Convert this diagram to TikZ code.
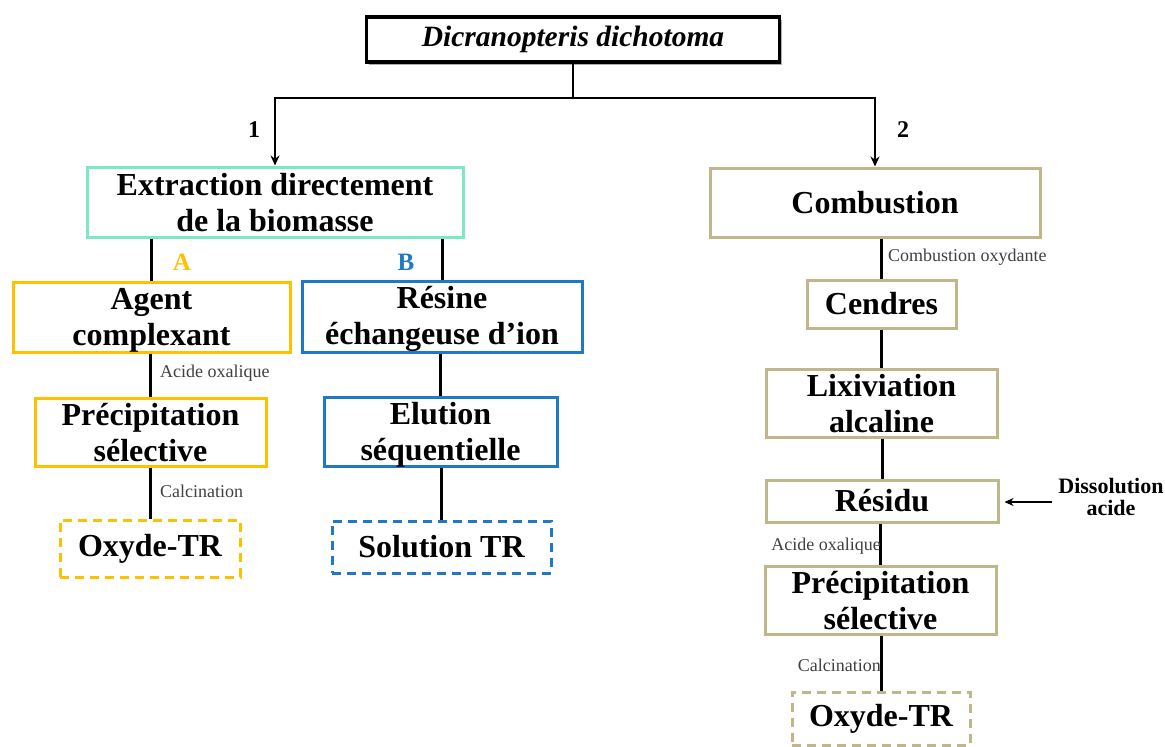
\documentclass[tikz,border=0pt]{standalone}
\usepackage{fontspec}
\setmainfont{Liberation Serif}
\usetikzlibrary{arrows.meta,shadows}
\definecolor{mint}{HTML}{7DE8C3}
\definecolor{gold}{HTML}{FFC000}
\definecolor{bleu}{HTML}{1F78C8}
\definecolor{khaki}{HTML}{BFB68A}
\newcommand\mytop{\rule{0pt}{27pt}}
\newcommand\mybot{\rule[-5pt]{0pt}{5pt}}
\begin{document}
\begin{tikzpicture}[x=1pt,y=-1pt,
  box/.style={draw, line width=3pt, inner sep=0pt, align=center,
    font=\fontsize{32}{36}\selectfont\bfseries},
  dashbox/.style={box, dash pattern=on 9pt off 6pt},
  link/.style={line width=3pt, black},
  arr/.style={line width=2pt, black, -{Stealth[length=10pt,width=9pt]}},
  note/.style={font=\fontsize{18}{20}\selectfont, text=black!75, inner sep=0pt},
  num/.style={font=\fontsize{24}{26}\selectfont\bfseries, inner sep=0pt},
  letter/.style={font=\fontsize{25}{27}\selectfont\bfseries, inner sep=0pt}]
\useasboundingbox (0,0) rectangle (1165,747);

% top
\node[box, line width=3.5pt, minimum width=413pt, minimum height=45pt,
  drop shadow={shadow xshift=2pt, shadow yshift=-2.5pt, opacity=0.45, fill=black!70},
  fill=white, font=\fontsize{29.5}{32}\selectfont\bfseries\itshape]
  (top) at (573,39.5) {Dicranopteris dichotoma};
\coordinate (split) at (573,98);

% branch 1
\node[box, draw=mint, minimum width=376pt, minimum height=70pt] (extr) at (275,202) {\mytop Extraction directement\\de la biomasse\mybot};
\node[box, draw=gold, minimum width=277pt, minimum height=70pt] (agent) at (151.5,317) {\mytop Agent\\complexant\mybot};
\node[box, draw=bleu, minimum width=280pt, minimum height=70pt] (resine) at (442,317) {\mytop Résine\\échangeuse d’ion\mybot};
\node[box, draw=gold, minimum width=231pt, minimum height=68pt] (precA) at (150.5,432) {\mytop Précipitation\\sélective\mybot};
\node[box, draw=bleu, minimum width=233pt, minimum height=68pt] (elution) at (440.5,432) {\mytop Elution\\séquentielle\mybot};
\node[dashbox, draw=gold, minimum width=180pt, minimum height=57pt] (oxA) at (150,548.5) {Oxyde-TR};
\node[dashbox, draw=bleu, minimum width=219pt, minimum height=52pt] (solB) at (441.5,547) {Solution TR};

% branch 2
\node[box, draw=khaki, minimum width=330pt, minimum height=69pt] (comb) at (875,202.5) {Combustion};
\node[box, draw=khaki, minimum width=149pt, minimum height=48pt] (cendres) at (881.5,304) {Cendres};
\node[box, draw=khaki, minimum width=231pt, minimum height=68pt] (lix) at (881.5,403) {\mytop Lixiviation\\alcaline\mybot};
\node[box, draw=khaki, minimum width=232pt, minimum height=42pt] (residu) at (882,501) {Résidu};
\node[box, draw=khaki, minimum width=231pt, minimum height=67pt] (precC) at (880.5,600.5) {\mytop Précipitation\\sélective\mybot};
\node[dashbox, draw=khaki, minimum width=178pt, minimum height=53pt] (oxC) at (881,718.5) {Oxyde-TR};

% connectors top
\draw[link, line width=2.2pt] (top.south) -- (split);
\draw[arr] (split) -| (extr.north);
\draw[arr] (split) -| (comb.north);
\node[num] (n1) at (254,130) {1};
\node[num] (n2) at (903,130) {2};

% branch A / B
\draw[link] (extr.south -| agent.north) -- (agent.north);
\draw[link] (extr.south -| resine.north) -- (resine.north);
\node[letter, text=gold] (lA) at (182,262) {A};
\node[letter, text=bleu] (lB) at (406,262) {B};
\draw[link] (agent.south -| precA.north) -- (precA.north);
\draw[link] (precA.south -| oxA.north) -- (oxA.north);
\draw[link] (resine.south -| elution.north) -- (elution.north);
\draw[link] (elution.south -| solB.north) -- (solB.north);
\node[note, anchor=west] (t1) at (160,373) {Acide oxalique};
\node[note, anchor=west] (t2) at (160,491) {Calcination};

% branch 2 connectors
\draw[link] (comb.south -| cendres.north) -- (cendres.north);
\draw[link] (cendres.south) -- (cendres.south |- lix.north);
\draw[link] (lix.south -| residu.north) -- (residu.north);
\draw[link] (residu.south -| precC.north) -- (precC.north);
\draw[link] (precC.south -| oxC.north) -- (oxC.north);
\node[note, anchor=west] (t3) at (888,257) {Combustion oxydante};
\node[note, anchor=east] (t4) at (881,546) {Acide oxalique};
\node[note, anchor=east] (t5) at (881,665) {Calcination};

\node[font=\fontsize{22}{22}\selectfont\bfseries, align=center, inner sep=0pt] (dis) at (1111,497) {Dissolution\\acide};
\coordinate (disA) at (1052,502);
\draw[line width=1.8pt, -{Stealth[length=9pt,width=8pt]}, shorten >=5pt] (disA) -- (disA -| residu.east);
\end{tikzpicture}
\end{document}
